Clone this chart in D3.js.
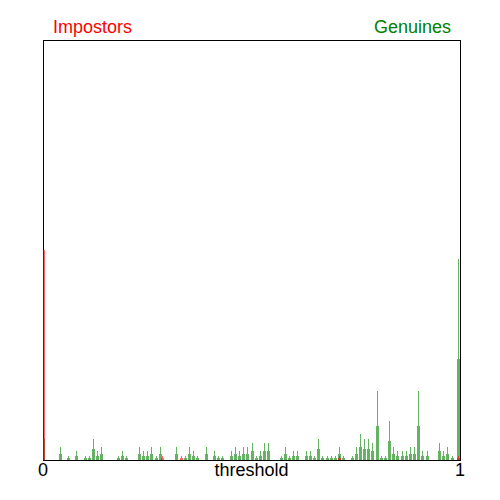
<!DOCTYPE html>
<html>
<head>
<meta charset="utf-8">
<script src="https://cdn.jsdelivr.net/npm/d3@7"></script>
<style>
  body { margin: 0; background: #fff; }
  text { font-family: "Liberation Sans", Arial, sans-serif; }
</style>
</head>
<body>
<div class="canvas"></div>
<script>
// score histograms, one bin per 0.01 of threshold
const genuineThresholds = [0, 0.04, 0.06, 0.08, 0.10, 0.11, 0.12, 0.13, 0.14, 0.18, 0.19, 0.20,
  0.23, 0.24, 0.25, 0.26, 0.27, 0.28, 0.32, 0.34, 0.35, 0.36, 0.37, 0.39, 0.41, 0.42, 0.43,
  0.45, 0.46, 0.47, 0.48, 0.49, 0.50, 0.51, 0.52, 0.53, 0.54, 0.57, 0.58, 0.59, 0.60, 0.61,
  0.63, 0.64, 0.65, 0.66, 0.67, 0.68, 0.69, 0.70, 0.71, 0.72, 0.74, 0.75, 0.76, 0.77, 0.78,
  0.79, 0.80, 0.81, 0.82, 0.83, 0.84, 0.85, 0.86, 0.87, 0.88, 0.89, 0.90, 0.91, 0.92, 0.95,
  0.96, 0.97, 0.98, 0.995];
const genuineCounts = [5, 3, 1, 2, 1, 1, 5, 2, 3, 1, 2, 1,
  3, 2, 2, 3, 1, 3, 3, 1, 3, 2, 1, 3, 2, 1, 1,
  2, 3, 2, 3, 3, 4, 1, 2, 4, 4, 1, 3, 1, 2, 2,
  2, 2, 1, 5, 1, 1, 1, 1, 3, 1, 1, 3, 6, 5, 5,
  4, 16, 1, 1, 9, 3, 2, 2, 2, 3, 3, 16, 2, 2, 4,
  2, 3, 1, 47];

const impostorThresholds = [0, 0.285, 0.33, 0.71, 0.995];
const impostorCounts = [49, 1, 1, 1, 1];

const xTicks = [0, 1];
const xTickLabels = ["0", "1"];

const frame = { left: 43, right: 460, top: 40, bottom: 460 };

const svg = d3.select(".canvas")
  .append("svg")
  .attr("width", 500)
  .attr("height", 500);

const x = d3.scaleLinear().domain([0, 1]).range([frame.left + 0.5, frame.right + 0.5]);
const maxCount = d3.max(impostorCounts.concat(genuineCounts));
const y = d3.scaleLinear().domain([0, maxCount * 2]).range([frame.bottom, frame.top]);

// keep the bars inside the frame
svg.append("clipPath")
  .attr("id", "plot-clip")
  .append("rect")
    .attr("x", frame.left)
    .attr("y", frame.top)
    .attr("width", frame.right - frame.left)
    .attr("height", frame.bottom - frame.top);

// plot frame
svg.append("rect")
  .attr("x", frame.left + 0.5)
  .attr("y", frame.top + 0.5)
  .attr("width", frame.right - frame.left)
  .attr("height", frame.bottom - frame.top)
  .attr("fill", "none")
  .attr("stroke", "#000")
  .attr("stroke-width", 1);

const bars = svg.append("g").attr("clip-path", "url(#plot-clip)");

// each bin: a 3px bar at half height with a 1px spike at full height
const drawHist = (thresholds, counts, colour) => {
  const data = thresholds.map((t, i) => ({ t, c: counts[i] }));
  const g = bars.append("g")
    .attr("opacity", 0.6)
    .attr("shape-rendering", "crispEdges");

  g.selectAll("rect.wide")
    .data(data)
    .enter()
    .append("rect")
      .attr("class", "wide")
      .attr("x", d => Math.floor(x(d.t)) - 1)
      .attr("width", 3)
      .attr("y", d => y(d.c / 2))
      .attr("height", d => y(0) - y(d.c / 2))
      .attr("fill", colour);

  g.selectAll("rect.spike")
    .data(data)
    .enter()
    .append("rect")
      .attr("class", "spike")
      .attr("x", d => Math.floor(x(d.t)))
      .attr("width", d => d.t === 0 ? 2 : 1)
      .attr("y", d => y(d.c))
      .attr("height", d => y(0) - y(d.c))
      .attr("fill", colour);
};

drawHist(genuineThresholds, genuineCounts, "#008000");
drawHist(impostorThresholds, impostorCounts, "#ff0000");

// x tick labels and axis title
svg.selectAll("text.tick")
  .data(xTicks)
  .enter()
  .append("text")
    .attr("class", "tick")
    .attr("x", d => x(d) - 0.5)
    .attr("y", 476)
    .attr("text-anchor", "middle")
    .attr("font-size", 18)
    .text((d, i) => xTickLabels[i]);

svg.append("text")
  .attr("x", (frame.left + frame.right) / 2)
  .attr("y", 476)
  .attr("text-anchor", "middle")
  .attr("font-size", 18)
  .text("threshold");

// legend labels
svg.append("text")
  .attr("x", 53)
  .attr("y", 33)
  .attr("font-size", 18)
  .attr("fill", "#ff0000")
  .text("Impostors");

svg.append("text")
  .attr("x", 451)
  .attr("y", 33)
  .attr("text-anchor", "end")
  .attr("font-size", 18)
  .attr("fill", "#008000")
  .text("Genuines");
</script>
</body>
</html>
